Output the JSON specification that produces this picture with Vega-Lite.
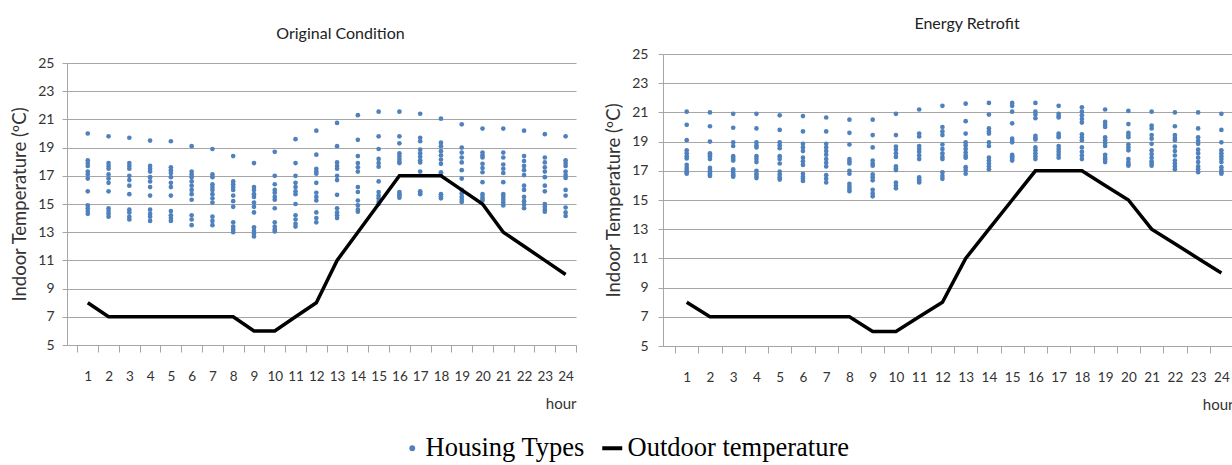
{
  "$schema": "https://vega.github.io/schema/vega-lite/v6.json",
  "padding": {"left": 10, "top": 15, "right": 0, "bottom": 0},
  "background": "white",
  "config": {
    "view": {"stroke": null},
    "axis": {
      "labelFont": "Lato",
      "titleFont": "Lato",
      "labelColor": "#333333",
      "titleColor": "#333333",
      "titleFontWeight": "normal",
      "domainColor": "#a6a6a6",
      "tickColor": "#a6a6a6",
      "gridColor": "#a6a6a6",
      "domainWidth": 1,
      "gridWidth": 1,
      "tickWidth": 1
    },
    "legend": {"labelFont": "Liberation Serif", "labelFontSize": 26.5, "labelColor": "#000000", "labelLimit": 400, "title": null},
    "title": {"font": "Lato", "fontSize": 16, "fontWeight": "normal", "color": "#222222"},
    "concat": {"spacing": 27}
  },
  "datasets": {
    "orig": [
      {"hour":1,"temp":20.0},{"hour":1,"temp":18.1},{"hour":1,"temp":17.9},{"hour":1,"temp":17.7},{"hour":1,"temp":17.3},{"hour":1,"temp":17.1},{"hour":1,"temp":16.8},{"hour":1,"temp":15.9},{"hour":1,"temp":14.9},{"hour":1,"temp":14.7},{"hour":1,"temp":14.5},{"hour":1,"temp":14.3},
      {"hour":2,"temp":19.8},{"hour":2,"temp":17.9},{"hour":2,"temp":17.7},{"hour":2,"temp":17.5},{"hour":2,"temp":17.1},{"hour":2,"temp":16.8},{"hour":2,"temp":16.5},{"hour":2,"temp":15.9},{"hour":2,"temp":14.7},{"hour":2,"temp":14.5},{"hour":2,"temp":14.3},{"hour":2,"temp":14.1},
      {"hour":3,"temp":19.7},{"hour":3,"temp":17.9},{"hour":3,"temp":17.7},{"hour":3,"temp":17.5},{"hour":3,"temp":17.0},{"hour":3,"temp":16.7},{"hour":3,"temp":16.3},{"hour":3,"temp":15.7},{"hour":3,"temp":14.6},{"hour":3,"temp":14.4},{"hour":3,"temp":14.1},{"hour":3,"temp":13.9},
      {"hour":4,"temp":19.5},{"hour":4,"temp":17.7},{"hour":4,"temp":17.5},{"hour":4,"temp":17.3},{"hour":4,"temp":16.9},{"hour":4,"temp":16.6},{"hour":4,"temp":16.2},{"hour":4,"temp":15.6},{"hour":4,"temp":14.6},{"hour":4,"temp":14.3},{"hour":4,"temp":14.1},{"hour":4,"temp":13.8},
      {"hour":5,"temp":19.45},{"hour":5,"temp":17.6},{"hour":5,"temp":17.4},{"hour":5,"temp":17.2},{"hour":5,"temp":16.9},{"hour":5,"temp":16.5},{"hour":5,"temp":16.2},{"hour":5,"temp":15.6},{"hour":5,"temp":14.5},{"hour":5,"temp":14.2},{"hour":5,"temp":14.0},{"hour":5,"temp":13.8},
      {"hour":6,"temp":19.1},{"hour":6,"temp":17.3},{"hour":6,"temp":17.1},{"hour":6,"temp":16.9},{"hour":6,"temp":16.6},{"hour":6,"temp":16.3},{"hour":6,"temp":16.0},{"hour":6,"temp":15.7},{"hour":6,"temp":15.3},{"hour":6,"temp":14.2},{"hour":6,"temp":13.9},{"hour":6,"temp":13.5},
      {"hour":7,"temp":18.9},{"hour":7,"temp":17.1},{"hour":7,"temp":16.9},{"hour":7,"temp":16.4},{"hour":7,"temp":16.2},{"hour":7,"temp":16.0},{"hour":7,"temp":15.7},{"hour":7,"temp":15.4},{"hour":7,"temp":15.1},{"hour":7,"temp":14.1},{"hour":7,"temp":13.8},{"hour":7,"temp":13.5},
      {"hour":8,"temp":18.4},{"hour":8,"temp":16.6},{"hour":8,"temp":16.4},{"hour":8,"temp":16.2},{"hour":8,"temp":16.0},{"hour":8,"temp":15.6},{"hour":8,"temp":15.2},{"hour":8,"temp":14.8},{"hour":8,"temp":13.7},{"hour":8,"temp":13.4},{"hour":8,"temp":13.2},{"hour":8,"temp":13.0},
      {"hour":9,"temp":17.9},{"hour":9,"temp":16.2},{"hour":9,"temp":16.0},{"hour":9,"temp":15.7},{"hour":9,"temp":15.5},{"hour":9,"temp":15.1},{"hour":9,"temp":14.8},{"hour":9,"temp":14.4},{"hour":9,"temp":13.35},{"hour":9,"temp":13.1},{"hour":9,"temp":12.9},{"hour":9,"temp":12.7},
      {"hour":10,"temp":18.7},{"hour":10,"temp":17.0},{"hour":10,"temp":16.4},{"hour":10,"temp":16.0},{"hour":10,"temp":15.8},{"hour":10,"temp":15.5},{"hour":10,"temp":15.3},{"hour":10,"temp":14.7},{"hour":10,"temp":13.7},{"hour":10,"temp":13.4},{"hour":10,"temp":13.2},{"hour":10,"temp":13.05},
      {"hour":11,"temp":19.6},{"hour":11,"temp":17.9},{"hour":11,"temp":17.0},{"hour":11,"temp":16.5},{"hour":11,"temp":16.2},{"hour":11,"temp":15.9},{"hour":11,"temp":15.7},{"hour":11,"temp":15.0},{"hour":11,"temp":14.2},{"hour":11,"temp":13.9},{"hour":11,"temp":13.6},{"hour":11,"temp":13.4},
      {"hour":12,"temp":20.2},{"hour":12,"temp":18.5},{"hour":12,"temp":17.5},{"hour":12,"temp":17.3},{"hour":12,"temp":17.15},{"hour":12,"temp":16.5},{"hour":12,"temp":15.8},{"hour":12,"temp":15.5},{"hour":12,"temp":15.25},{"hour":12,"temp":14.4},{"hour":12,"temp":14.0},{"hour":12,"temp":13.7},
      {"hour":13,"temp":20.75},{"hour":13,"temp":19.1},{"hour":13,"temp":17.95},{"hour":13,"temp":17.7},{"hour":13,"temp":17.5},{"hour":13,"temp":17.0},{"hour":13,"temp":16.7},{"hour":13,"temp":15.65},{"hour":13,"temp":14.7},{"hour":13,"temp":14.4},{"hour":13,"temp":14.2},{"hour":13,"temp":14.0},
      {"hour":14,"temp":21.3},{"hour":14,"temp":19.55},{"hour":14,"temp":18.4},{"hour":14,"temp":17.9},{"hour":14,"temp":17.6},{"hour":14,"temp":17.3},{"hour":14,"temp":16.2},{"hour":14,"temp":15.85},{"hour":14,"temp":15.25},{"hour":14,"temp":14.9},{"hour":14,"temp":14.6},{"hour":14,"temp":14.45},
      {"hour":15,"temp":21.55},{"hour":15,"temp":19.8},{"hour":15,"temp":18.9},{"hour":15,"temp":18.2},{"hour":15,"temp":17.9},{"hour":15,"temp":17.65},{"hour":15,"temp":16.6},{"hour":15,"temp":15.85},{"hour":15,"temp":15.6},{"hour":15,"temp":15.4},{"hour":15,"temp":15.15},{"hour":15,"temp":15.0},
      {"hour":16,"temp":21.55},{"hour":16,"temp":19.8},{"hour":16,"temp":19.3},{"hour":16,"temp":18.6},{"hour":16,"temp":18.4},{"hour":16,"temp":18.2},{"hour":16,"temp":18.0},{"hour":16,"temp":17.9},{"hour":16,"temp":15.85},{"hour":16,"temp":15.7},{"hour":16,"temp":15.6},{"hour":16,"temp":15.45},
      {"hour":17,"temp":21.4},{"hour":17,"temp":19.7},{"hour":17,"temp":19.45},{"hour":17,"temp":18.85},{"hour":17,"temp":18.6},{"hour":17,"temp":18.35},{"hour":17,"temp":18.1},{"hour":17,"temp":17.95},{"hour":17,"temp":17.3},{"hour":17,"temp":15.9},{"hour":17,"temp":15.8},{"hour":17,"temp":15.7},
      {"hour":18,"temp":21.05},{"hour":18,"temp":19.35},{"hour":18,"temp":19.1},{"hour":18,"temp":18.75},{"hour":18,"temp":18.45},{"hour":18,"temp":18.15},{"hour":18,"temp":17.85},{"hour":18,"temp":17.25},{"hour":18,"temp":17.15},{"hour":18,"temp":15.7},{"hour":18,"temp":15.55},{"hour":18,"temp":15.4},
      {"hour":19,"temp":20.65},{"hour":19,"temp":19.0},{"hour":19,"temp":18.65},{"hour":19,"temp":18.3},{"hour":19,"temp":17.95},{"hour":19,"temp":17.4},{"hour":19,"temp":16.8},{"hour":19,"temp":16.0},{"hour":19,"temp":15.75},{"hour":19,"temp":15.5},{"hour":19,"temp":15.3},{"hour":19,"temp":15.15},
      {"hour":20,"temp":20.35},{"hour":20,"temp":18.65},{"hour":20,"temp":18.45},{"hour":20,"temp":18.3},{"hour":20,"temp":17.85},{"hour":20,"temp":17.55},{"hour":20,"temp":17.25},{"hour":20,"temp":16.55},{"hour":20,"temp":15.7},{"hour":20,"temp":15.5},{"hour":20,"temp":15.35},{"hour":20,"temp":15.25},
      {"hour":21,"temp":20.35},{"hour":21,"temp":18.65},{"hour":21,"temp":18.3},{"hour":21,"temp":17.8},{"hour":21,"temp":17.5},{"hour":21,"temp":17.2},{"hour":21,"temp":16.55},{"hour":21,"temp":15.7},{"hour":21,"temp":15.5},{"hour":21,"temp":15.3},{"hour":21,"temp":15.1},{"hour":21,"temp":14.9},
      {"hour":22,"temp":20.2},{"hour":22,"temp":18.4},{"hour":22,"temp":18.05},{"hour":22,"temp":17.7},{"hour":22,"temp":17.4},{"hour":22,"temp":17.05},{"hour":22,"temp":16.3},{"hour":22,"temp":16.0},{"hour":22,"temp":15.5},{"hour":22,"temp":15.2},{"hour":22,"temp":14.95},{"hour":22,"temp":14.7},
      {"hour":23,"temp":19.95},{"hour":23,"temp":18.3},{"hour":23,"temp":17.95},{"hour":23,"temp":17.6},{"hour":23,"temp":17.3},{"hour":23,"temp":16.9},{"hour":23,"temp":16.3},{"hour":23,"temp":15.9},{"hour":23,"temp":15.0},{"hour":23,"temp":14.8},{"hour":23,"temp":14.6},{"hour":23,"temp":14.45},
      {"hour":24,"temp":19.8},{"hour":24,"temp":18.1},{"hour":24,"temp":17.9},{"hour":24,"temp":17.7},{"hour":24,"temp":17.3},{"hour":24,"temp":17.05},{"hour":24,"temp":16.85},{"hour":24,"temp":16.0},{"hour":24,"temp":15.6},{"hour":24,"temp":14.75},{"hour":24,"temp":14.4},{"hour":24,"temp":14.15}
    ],
    "retro": [
      {"hour":1,"temp":21.05},{"hour":1,"temp":20.15},{"hour":1,"temp":19.1},{"hour":1,"temp":18.4},{"hour":1,"temp":18.2},{"hour":1,"temp":18.0},{"hour":1,"temp":17.85},{"hour":1,"temp":17.4},{"hour":1,"temp":17.2},{"hour":1,"temp":17.05},{"hour":1,"temp":16.9},{"hour":1,"temp":16.8},
      {"hour":2,"temp":21.0},{"hour":2,"temp":20.05},{"hour":2,"temp":19.0},{"hour":2,"temp":18.2},{"hour":2,"temp":18.0},{"hour":2,"temp":17.8},{"hour":2,"temp":17.2},{"hour":2,"temp":17.05},{"hour":2,"temp":16.9},{"hour":2,"temp":16.75},{"hour":2,"temp":16.65},{"hour":2,"temp":18.1},
      {"hour":3,"temp":20.9},{"hour":3,"temp":19.95},{"hour":3,"temp":18.95},{"hour":3,"temp":18.7},{"hour":3,"temp":18.0},{"hour":3,"temp":17.85},{"hour":3,"temp":17.7},{"hour":3,"temp":17.1},{"hour":3,"temp":16.95},{"hour":3,"temp":16.8},{"hour":3,"temp":16.7},{"hour":3,"temp":16.6},
      {"hour":4,"temp":20.9},{"hour":4,"temp":19.9},{"hour":4,"temp":18.95},{"hour":4,"temp":18.75},{"hour":4,"temp":18.6},{"hour":4,"temp":18.0},{"hour":4,"temp":17.8},{"hour":4,"temp":17.6},{"hour":4,"temp":17.0},{"hour":4,"temp":16.8},{"hour":4,"temp":16.65},{"hour":4,"temp":16.5},
      {"hour":5,"temp":20.8},{"hour":5,"temp":19.8},{"hour":5,"temp":18.95},{"hour":5,"temp":18.75},{"hour":5,"temp":18.55},{"hour":5,"temp":18.0},{"hour":5,"temp":17.8},{"hour":5,"temp":17.5},{"hour":5,"temp":16.95},{"hour":5,"temp":16.75},{"hour":5,"temp":16.55},{"hour":5,"temp":16.4},
      {"hour":6,"temp":20.75},{"hour":6,"temp":19.7},{"hour":6,"temp":18.85},{"hour":6,"temp":18.6},{"hour":6,"temp":18.35},{"hour":6,"temp":17.9},{"hour":6,"temp":17.65},{"hour":6,"temp":17.4},{"hour":6,"temp":16.8},{"hour":6,"temp":16.6},{"hour":6,"temp":16.45},{"hour":6,"temp":16.3},
      {"hour":7,"temp":20.65},{"hour":7,"temp":19.7},{"hour":7,"temp":18.85},{"hour":7,"temp":18.6},{"hour":7,"temp":18.35},{"hour":7,"temp":18.1},{"hour":7,"temp":17.8},{"hour":7,"temp":17.55},{"hour":7,"temp":17.3},{"hour":7,"temp":16.7},{"hour":7,"temp":16.45},{"hour":7,"temp":16.2},
      {"hour":8,"temp":20.5},{"hour":8,"temp":19.6},{"hour":8,"temp":18.8},{"hour":8,"temp":17.8},{"hour":8,"temp":17.65},{"hour":8,"temp":17.5},{"hour":8,"temp":17.0},{"hour":8,"temp":16.8},{"hour":8,"temp":16.1},{"hour":8,"temp":15.9},{"hour":8,"temp":15.75},{"hour":8,"temp":15.6},
      {"hour":9,"temp":20.5},{"hour":9,"temp":19.45},{"hour":9,"temp":18.6},{"hour":9,"temp":17.7},{"hour":9,"temp":17.5},{"hour":9,"temp":17.35},{"hour":9,"temp":16.75},{"hour":9,"temp":16.55},{"hour":9,"temp":16.35},{"hour":9,"temp":15.7},{"hour":9,"temp":15.45},{"hour":9,"temp":15.25},
      {"hour":10,"temp":20.9},{"hour":10,"temp":19.45},{"hour":10,"temp":18.65},{"hour":10,"temp":18.45},{"hour":10,"temp":18.2},{"hour":10,"temp":17.95},{"hour":10,"temp":17.3},{"hour":10,"temp":17.15},{"hour":10,"temp":17.05},{"hour":10,"temp":16.2},{"hour":10,"temp":16.0},{"hour":10,"temp":15.8},
      {"hour":11,"temp":21.2},{"hour":11,"temp":19.55},{"hour":11,"temp":19.35},{"hour":11,"temp":18.7},{"hour":11,"temp":18.5},{"hour":11,"temp":18.3},{"hour":11,"temp":18.05},{"hour":11,"temp":17.8},{"hour":11,"temp":16.55},{"hour":11,"temp":16.4},{"hour":11,"temp":16.3},{"hour":11,"temp":16.2},
      {"hour":12,"temp":21.45},{"hour":12,"temp":20.0},{"hour":12,"temp":19.7},{"hour":12,"temp":19.45},{"hour":12,"temp":18.8},{"hour":12,"temp":18.5},{"hour":12,"temp":18.2},{"hour":12,"temp":17.95},{"hour":12,"temp":17.8},{"hour":12,"temp":16.9},{"hour":12,"temp":16.65},{"hour":12,"temp":16.45},
      {"hour":13,"temp":21.6},{"hour":13,"temp":20.4},{"hour":13,"temp":19.55},{"hour":13,"temp":18.95},{"hour":13,"temp":18.75},{"hour":13,"temp":18.5},{"hour":13,"temp":18.25},{"hour":13,"temp":18.05},{"hour":13,"temp":17.9},{"hour":13,"temp":17.25},{"hour":13,"temp":17.05},{"hour":13,"temp":16.8},
      {"hour":14,"temp":21.65},{"hour":14,"temp":20.85},{"hour":14,"temp":19.9},{"hour":14,"temp":19.7},{"hour":14,"temp":19.55},{"hour":14,"temp":18.95},{"hour":14,"temp":18.7},{"hour":14,"temp":17.9},{"hour":14,"temp":17.7},{"hour":14,"temp":17.5},{"hour":14,"temp":17.3},{"hour":14,"temp":17.1},
      {"hour":15,"temp":21.65},{"hour":15,"temp":21.45},{"hour":15,"temp":21.05},{"hour":15,"temp":20.25},{"hour":15,"temp":19.2},{"hour":15,"temp":19.05},{"hour":15,"temp":18.95},{"hour":15,"temp":18.1},{"hour":15,"temp":18.0},{"hour":15,"temp":17.9},{"hour":15,"temp":17.8},{"hour":15,"temp":17.7},
      {"hour":16,"temp":21.65},{"hour":16,"temp":21.05},{"hour":16,"temp":20.85},{"hour":16,"temp":20.6},{"hour":16,"temp":19.4},{"hour":16,"temp":19.25},{"hour":16,"temp":19.15},{"hour":16,"temp":18.6},{"hour":16,"temp":18.4},{"hour":16,"temp":18.2},{"hour":16,"temp":18.0},{"hour":16,"temp":17.8},
      {"hour":17,"temp":21.45},{"hour":17,"temp":20.9},{"hour":17,"temp":20.75},{"hour":17,"temp":20.65},{"hour":17,"temp":19.55},{"hour":17,"temp":19.4},{"hour":17,"temp":19.3},{"hour":17,"temp":18.7},{"hour":17,"temp":18.5},{"hour":17,"temp":18.3},{"hour":17,"temp":18.1},{"hour":17,"temp":17.9},
      {"hour":18,"temp":21.35},{"hour":18,"temp":21.05},{"hour":18,"temp":20.8},{"hour":18,"temp":20.55},{"hour":18,"temp":20.3},{"hour":18,"temp":19.5},{"hour":18,"temp":19.3},{"hour":18,"temp":19.1},{"hour":18,"temp":18.6},{"hour":18,"temp":18.3},{"hour":18,"temp":18.05},{"hour":18,"temp":17.8},
      {"hour":19,"temp":21.2},{"hour":19,"temp":20.35},{"hour":19,"temp":20.15},{"hour":19,"temp":20.0},{"hour":19,"temp":19.3},{"hour":19,"temp":19.1},{"hour":19,"temp":18.9},{"hour":19,"temp":18.7},{"hour":19,"temp":18.1},{"hour":19,"temp":17.9},{"hour":19,"temp":17.75},{"hour":19,"temp":17.6},
      {"hour":20,"temp":21.1},{"hour":20,"temp":20.2},{"hour":20,"temp":19.6},{"hour":20,"temp":19.45},{"hour":20,"temp":19.3},{"hour":20,"temp":18.8},{"hour":20,"temp":18.6},{"hour":20,"temp":18.4},{"hour":20,"temp":17.8},{"hour":20,"temp":17.6},{"hour":20,"temp":17.45},{"hour":20,"temp":17.35},
      {"hour":21,"temp":21.05},{"hour":21,"temp":20.1},{"hour":21,"temp":19.9},{"hour":21,"temp":19.45},{"hour":21,"temp":19.2},{"hour":21,"temp":18.85},{"hour":21,"temp":18.4},{"hour":21,"temp":18.15},{"hour":21,"temp":17.9},{"hour":21,"temp":17.65},{"hour":21,"temp":17.5},{"hour":21,"temp":17.35},
      {"hour":22,"temp":21.0},{"hour":22,"temp":20.05},{"hour":22,"temp":19.45},{"hour":22,"temp":19.25},{"hour":22,"temp":19.1},{"hour":22,"temp":18.65},{"hour":22,"temp":18.35},{"hour":22,"temp":18.05},{"hour":22,"temp":17.7},{"hour":22,"temp":17.5},{"hour":22,"temp":17.3},{"hour":22,"temp":17.1},
      {"hour":23,"temp":21.0},{"hour":23,"temp":19.9},{"hour":23,"temp":19.3},{"hour":23,"temp":19.05},{"hour":23,"temp":18.85},{"hour":23,"temp":18.45},{"hour":23,"temp":18.2},{"hour":23,"temp":17.9},{"hour":23,"temp":17.6},{"hour":23,"temp":17.3},{"hour":23,"temp":17.1},{"hour":23,"temp":16.9},
      {"hour":24,"temp":20.9},{"hour":24,"temp":19.8},{"hour":24,"temp":18.95},{"hour":24,"temp":18.4},{"hour":24,"temp":18.2},{"hour":24,"temp":18.0},{"hour":24,"temp":17.8},{"hour":24,"temp":17.6},{"hour":24,"temp":17.25},{"hour":24,"temp":17.05},{"hour":24,"temp":16.9},{"hour":24,"temp":16.8}
    ],
    "outdoor": [
      {"hour":1,"temp":8},{"hour":2,"temp":7},{"hour":3,"temp":7},{"hour":4,"temp":7},{"hour":5,"temp":7},{"hour":6,"temp":7},{"hour":7,"temp":7},{"hour":8,"temp":7},{"hour":9,"temp":6},{"hour":10,"temp":6},{"hour":11,"temp":7},{"hour":12,"temp":8},
      {"hour":13,"temp":11},{"hour":14,"temp":13},{"hour":15,"temp":15},{"hour":16,"temp":17},{"hour":17,"temp":17},{"hour":18,"temp":17},{"hour":19,"temp":16},{"hour":20,"temp":15},{"hour":21,"temp":13},{"hour":22,"temp":12},{"hour":23,"temp":11},{"hour":24,"temp":10}
    ]
  },
  "hconcat": [
    {
      "width": 509,
      "height": 291,
      "title": {"text": "Original Condition", "offset": 12.5, "dx": 19},
      "encoding": {
        "x": {
          "field": "hour", "type": "ordinal",
          "scale": {"type": "band", "paddingInner": 0, "paddingOuter": 0.25, "align": 1},
          "axis": {"title": "hour", "labelAngle": 0, "tickBand": "extent", "tickSize": 7, "labelPadding": 17, "labelFontSize": 13.5, "titleAnchor": "end", "titleFontSize": 15, "titlePadding": 14, "grid": false}
        },
        "y": {
          "field": "temp", "type": "quantitative",
          "scale": {"domain": [5, 25], "nice": false, "zero": false, "range": [291, 9]},
          "axis": {"title": "Indoor Temperature (ºC)", "values": [5,7,9,11,13,15,17,19,21,23,25], "grid": true, "tickSize": 5, "labelPadding": 8, "labelFontSize": 14, "titleFontSize": 18.5, "titlePadding": 8}
        }
      },
      "layer": [
        {
          "data": {"name": "orig"},
          "mark": {"type": "circle", "size": 22, "opacity": 1},
          "encoding": {
            "fill": {
              "datum": "Housing Types", "type": "nominal",
              "scale": {"domain": ["Housing Types"], "range": ["#4f81bd"]},
              "legend": {
                "orient": "none", "legendX": 332, "legendY": 381,
                "symbolType": "circle", "symbolSize": 34, "symbolStrokeWidth": 0, "symbolFillColor": "#4f81bd", "labelOffset": 0
              }
            }
          }
        },
        {
          "data": {"name": "outdoor"},
          "mark": {"type": "line", "strokeWidth": 3.5},
          "encoding": {
            "stroke": {
              "datum": "Outdoor temperature", "type": "nominal",
              "scale": {"domain": ["Outdoor temperature"], "range": ["#000000"]},
              "legend": {
                "orient": "none", "legendX": 532, "legendY": 381,
                "symbolType": "stroke", "symbolSize": 400, "symbolStrokeWidth": 4, "labelOffset": 2
              }
            }
          }
        }
      ]
    },
    {
      "width": 570,
      "height": 292,
      "title": {"text": "Energy Retrofit", "offset": 15.5, "dx": 19},
      "encoding": {
        "x": {
          "field": "hour", "type": "ordinal",
          "scale": {"type": "band", "paddingInner": 0, "paddingOuter": 0.26, "align": 1},
          "axis": {"title": "hour", "labelAngle": 0, "tickBand": "extent", "tickSize": 7, "labelPadding": 17, "labelFontSize": 13.5, "titleAnchor": "end", "titleFontSize": 15, "titlePadding": 14, "grid": false}
        },
        "y": {
          "field": "temp", "type": "quantitative",
          "scale": {"domain": [5, 25], "nice": false, "zero": false},
          "axis": {"title": "Indoor Temperature (ºC)", "values": [5,7,9,11,13,15,17,19,21,23,25], "grid": true, "tickSize": 5, "labelPadding": 10, "labelFontSize": 14, "titleFontSize": 18.5, "titlePadding": 8}
        }
      },
      "layer": [
        {
          "data": {"name": "retro"},
          "mark": {"type": "circle", "size": 22, "opacity": 1},
          "encoding": {"fill": {"datum": "Housing Types", "type": "nominal"}}
        },
        {
          "data": {"name": "outdoor"},
          "mark": {"type": "line", "strokeWidth": 3.5},
          "encoding": {"stroke": {"datum": "Outdoor temperature", "type": "nominal"}}
        }
      ]
    }
  ]
}
